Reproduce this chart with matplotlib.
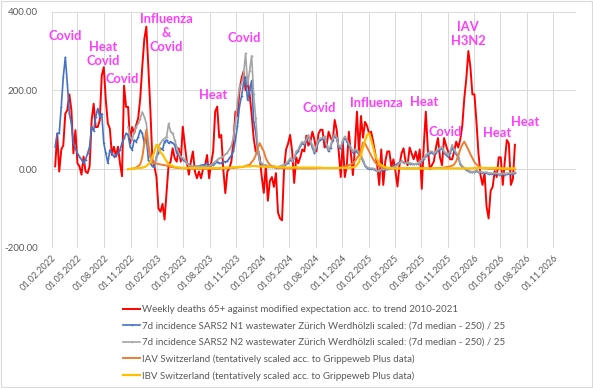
import numpy as np
import pandas as pd
import matplotlib
matplotlib.use('Agg')
import matplotlib.pyplot as plt
import matplotlib.dates as mdates

plt.rcParams['font.family'] = ['Lato', 'DejaVu Sans']

# weekly deaths 65+ (excess vs. trend), weeks from 13.02.2022
red_start = '2022-02-13'
red = [7, 90, -6, 49, 61, 141, 150, 190, 150, 40,
       99, 15, 7, -14, 32, -6, -10, 7, 124, 166,
       107, 107, 124, 238, 259, 175, 116, 103, 36, 57,
       32, 57, 15, -18, 212, 158, 158, 66, 107, 91,
       112, 130, 180, 260, 330, 362, 259, 150, 24, 7,
       -20, -100, -108, -88, -128, -60, 11, 19, 53, 28,
       19, 53, 19, 108, 62, 19, -14, 19, 45, -6,
       -23, -6, -23, 0, 10, 36, -23, 15, 45, 146,
       159, 80, 87, 0, -61, -6, 2, 20, 70, 146,
       135, 200, 230, 248, 200, 225, 190, 140, 79, 45,
       50, 30, -20, -60, 10, -80, -30, -20, -45, -10,
       -110, -125, -130, 0, 50, 65, 87, 45, -35, 30,
       15, 30, 50, 45, 85, 60, 70, 95, 75, 45,
       90, 100, 100, 55, 60, 95, 80, 70, 125, 100,
       45, -20, 70, -20, 10, 95, 40, -15, 55, 146,
       40, 135, 80, 120, 110, 90, 95, 70, 40, 10,
       -40, 50, -40, 20, 45, 45, 5, 25, -5, -44,
       10, 40, 53, 20, 10, 55, 40, 25, 45, 20,
       50, -50, 60, 146, 50, 0, 10, 20, 55, 79,
       30, 10, 79, 60, 45, 25, 25, 45, 70, 55,
       75, 110, 180, 230, 300, 260, 190, 190, 120, 40,
       -15, -40, -10, -95, -125, -55, -45, -5, -20, 30,
       30, -40, 20, 74, 65, -40, -25, 62]

# SARS2 N1 wastewater Zurich, scaled
n1_start = '2022-02-13'
n1 = [57, 91, 91, 158, 234, 284, 217, 141, 116, 66,
      53, 40, 32, 24, 15, 24, 40, 57, 107, 97,
      133, 154, 133, 141, 66, 40, 15, 49, 40, 32,
      36, 40, 49, 66, 78, 91, 87, 57, 49, 74,
      70, 82, 99, 91, 66, 82, 24, 15, 7, 5,
      32, 40, 53, 49, 70, 74, 66, 70, 66, 62,
      40, 36, 30, 24, 20, 15, 12, 7, 7, 7,
      7, 8, 10, 11, 11, 15, 11, 11, 11, 15,
      19, 15, 15, 19, 19, 20, 28, 35, 45, 75,
      110, 160, 185, 217, 234, 175, 200, 225, 120, 95,
      45, 19, 11, 7, 8, 6, 5, 5, 5, 4,
      4, 6, 8, 8, 12, 16, 24, 20, 28, 40,
      45, 58, 66, 62, 72, 85, 68, 55, 40, 55,
      70, 75, 76, 80, 58, 45, 55, 75, 85, 76,
      56, 52, 70, 80, 70, 60, 52, 42, 46, 44,
      38, 32, 20, 8, 3, 1, 0, 0, -2, -5,
      -5, -2, -2, -1, 0, 2, 5, 8, 10, 14,
      18, 20, 17, 16, 16, 14, 13, 12, 13, 14,
      16, 22, 26, 33, 36, 42, 42, 38, 42, 46,
      50, 52, 42, 36, 32, 40, 55, 45, 38, 30,
      12, 5, 2, -2, -4, -8, -8, -8, -4, -8,
      -8, -10, -10, -10, -12, -12, -12, -12, -12, -14,
      -14, -12, -14, -12, -12, -12, -12, -10]

# SARS2 N2 wastewater Zurich, scaled
n2_start = '2022-10-23'
n2 = [107, 82, 74, 95, 107, 116, 128, 145, 133, 116,
      66, 32, 15, 15, 32, 57, 66, 74, 78, 82,
      116, 95, 91, 74, 57, 40, 32, 28, 24, 15,
      11, 8, 7, 7, 7, 7, 7, 7, 7, 7,
      7, 11, 15, 19, 24, 28, 30, 32, 38, 42,
      50, 60, 80, 120, 170, 208, 217, 240, 294, 215,
      250, 288, 190, 130, 60, 20, 15, 11, 10, 8,
      8, 8, 8, 6, 6, 8, 10, 10, 15, 20,
      28, 22, 30, 45, 50, 62, 70, 66, 76, 87,
      70, 62, 45, 60, 75, 78, 80, 83, 62, 49,
      60, 79, 89, 80, 60, 57, 75, 83, 75, 65,
      55, 45, 50, 48, 42, 36, 24, 10, 5, 3,
      2, 2, 0, -4, -4, 0, 0, 0, 0, 0,
      3, 5, 7, 11, 16, 20, 15, 15, 18, 15,
      15, 12, 14, 15, 17, 24, 28, 36, 40, 45,
      45, 40, 45, 50, 55, 57, 45, 40, 36, 45,
      62, 50, 42, 35, 15, 8, 4, 0, -2, -6,
      -6, -6, -2, -6, -6, -8, -8, -8, -10, -10,
      -10, -10, -10, -12, -12, -10, -12, -10, -10, -10,
      -10, -8]

# influenza A / B Switzerland
flu_start = '2022-10-23'
iav = [0, 0, 1, 2, 4, 8, 12, 30, 65, 100,
       55, 30, 18, 15, 14, 13, 12, 11, 10, 9,
       8, 6, 5, 4, 3, 3, 3, 2, 2, 2,
       2, 2, 1, 1, 1, 1, 1, 1, 1, 1,
       1, 1, 1, 1, 1, 1, 2, 2, 2, 2,
       3, 3, 3, 4, 4, 5, 5, 6, 8, 10,
       11, 18, 24, 35, 55, 66, 55, 45, 28, 18,
       11, 8, 5, 4, 3, 3, 3, 2, 2, 2,
       2, 2, 2, 2, 2, 2, 2, 2, 2, 2,
       2, 2, 2, 2, 3, 3, 3, 3, 3, 3,
       3, 3, 3, 3, 3, 4, 5, 6, 8, 10,
       12, 15, 20, 28, 36, 50, 68, 65, 55, 45,
       35, 25, 17, 12, 8, 5, 3, 3, 2, 2,
       2, 2, 2, 2, 2, 2, 2, 2, 2, 2,
       2, 2, 2, 2, 2, 2, 2, 2, 2, 2,
       2, 2, 3, 3, 3, 3, 4, 5, 6, 7,
       9, 12, 20, 35, 50, 62, 70, 60, 50, 38,
       28, 18, 12, 8, 5, 3, 2, 2, 1, 1,
       1, 1, 0, 0, 0, 0, 0, 0, 0, 0,
       0, 0]
ibv = [0, 1, 1, 2, 2, 3, 3, 4, 5, 8,
       12, 18, 30, 45, 62, 60, 42, 38, 28, 20,
       13, 10, 8, 6, 5, 4, 4, 3, 3, 3,
       3, 3, 3, 3, 3, 3, 3, 3, 3, 3,
       3, 3, 3, 3, 3, 3, 3, 3, 4, 4,
       4, 4, 5, 5, 5, 6, 6, 6, 7, 7,
       7, 8, 8, 8, 7, 7, 7, 6, 6, 6,
       6, 6, 7, 6, 5, 5, 5, 5, 4, 4,
       4, 4, 5, 5, 4, 4, 4, 4, 4, 4,
       4, 4, 4, 4, 4, 4, 3, 3, 3, 3,
       3, 3, 3, 3, 3, 3, 3, 3, 3, 3,
       4, 5, 6, 10, 18, 35, 55, 72, 87, 91,
       75, 55, 35, 24, 15, 10, 7, 5, 4, 3,
       3, 2, 2, 2, 2, 2, 2, 2, 2, 2,
       2, 2, 2, 2, 2, 2, 2, 2, 2, 2,
       2, 2, 2, 2, 2, 2, 2, 2, 2, 2,
       2, 2, 2, 2, 2, 2, 2, 2, 2, 2,
       2, 3, 3, 3, 3, 3, 3, 3, 3, 3,
       3, 3, 3, 3, 2, 2, 2, 2, 2, 2,
       2, 2]

labels = ['Weekly deaths 65+ against modified expectation acc. to trend 2010-2021',
          '7d incidence SARS2 N1 wastewater Zürich Werdhölzli scaled: (7d median - 250) / 25',
          '7d incidence SARS2 N2 wastewater Zürich Werdhölzli scaled: (7d median - 250) / 25',
          'IAV Switzerland (tentatively scaled acc. to Grippeweb Plus data)',
          'IBV Switzerland (tentatively scaled acc. to Grippeweb Plus data)']

# annotations: (text, date, value)
notes = [('Covid', '2022-03-19', 338),
         ('Heat\nCovid', '2022-07-28', 292),
         ('Covid', '2022-10-02', 229),
         ('Influenza\n&\nCovid', '2023-03-03', 346),
         ('Heat', '2023-08-13', 189),
         ('Covid', '2023-11-28', 333),
         ('Covid', '2024-08-14', 156),
         ('Influenza', '2025-02-26', 168),
         ('Heat', '2025-08-11', 171),
         ('Covid', '2025-10-23', 95),
         ('IAV\nH3N2', '2026-01-10', 343),
         ('Heat', '2026-04-21', 92),
         ('Heat', '2026-07-27', 120)]


def weeks(start, vals):
    return pd.date_range(start, periods=len(vals), freq='7D')


fig = plt.figure(figsize=(5.93, 3.88), dpi=100)
ax = fig.add_axes([0.0872, 0.361, 0.8841, 0.609])

ax.plot(weeks(red_start, red), red, color='#FF0000', lw=1.4, label=labels[0])
ax.plot(weeks(n1_start, n1), n1, color='#4472C4', lw=1.2, marker='+', ms=2, mew=0.5, label=labels[1])
ax.plot(weeks(n2_start, n2), n2, color='#A5A5A5', lw=1.2, marker='+', ms=2, mew=0.5, label=labels[2])
ax.plot(weeks(flu_start, iav), iav, color='#ED7D31', lw=1.4, label=labels[3])
ax.plot(weeks(flu_start, ibv), ibv, color='#FFC000', lw=1.6, label=labels[4])

for txt, d, v in notes:
    ax.text(pd.Timestamp(d), v, txt, color='#FF3DFF', fontsize=9.3, fontweight='bold',
            ha='center', va='center', linespacing=1.2)

ax.set_xlim(pd.Timestamp('2022-02-01'), pd.Timestamp('2027-01-18'))
ax.set_ylim(-200, 400)
ax.set_yticks([-200, 0, 200, 400])
ax.yaxis.set_major_formatter(plt.FuncFormatter(lambda v, p: '%.2f' % v))
ax.xaxis.set_major_locator(mdates.MonthLocator(bymonth=[2, 5, 8, 11], bymonthday=1))
ax.xaxis.set_major_formatter(mdates.DateFormatter('%d.%m.%Y'))
plt.setp(ax.get_xticklabels(), rotation=45, ha='right', rotation_mode='anchor')
ax.tick_params(length=0, labelcolor='#595959')
ax.tick_params(axis='y', labelsize=7, pad=10)
ax.tick_params(axis='x', labelsize=6.5, pad=4)
ax.grid(True, color='#D9D9D9', lw=0.7)
ax.set_axisbelow(True)
for s in ax.spines.values():
    s.set_visible(False)

leg = fig.legend(loc='upper left', bbox_to_anchor=(0.208, 0.213), frameon=False,
                 fontsize=7.0, handlelength=1.75, handletextpad=0.15, labelspacing=0.75,
                 borderaxespad=0, borderpad=0)
for t in leg.get_texts():
    t.set_color('#595959')

fig.patches.append(plt.Rectangle((0.002, 0.002), 0.996, 0.996, transform=fig.transFigure,
                                 fill=False, edgecolor='#D9D9D9', lw=0.8))

fig.savefig('out.png', dpi=100)
